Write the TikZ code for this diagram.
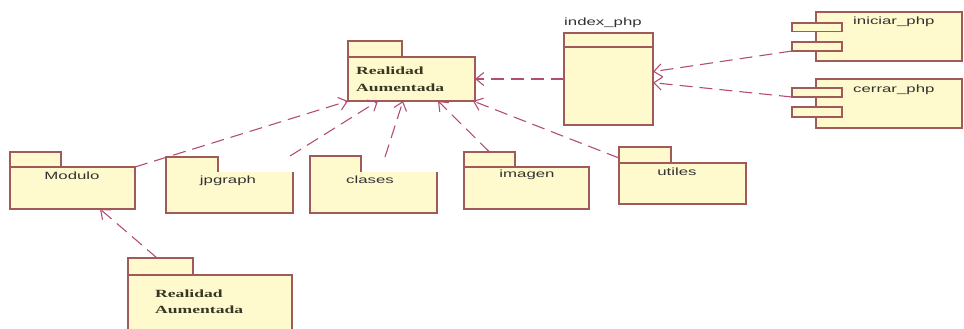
\documentclass[tikz,border=0pt]{standalone}
\usepackage{fontspec}
\usetikzlibrary{arrows.meta,calc}
\newfontfamily\lblsans[FakeStretch=1.6]{Liberation Sans}
\newfontfamily\lblserif[FakeStretch=1.6]{Liberation Serif}

\definecolor{pkgfill}{RGB}{255,250,205}
\definecolor{pkgline}{RGB}{160,90,90}
\definecolor{depline}{RGB}{178,78,115}
\definecolor{lbltext}{RGB}{50,50,50}
\definecolor{lblserif}{RGB}{55,55,35}

\tikzset{
  box/.style={rectangle, draw=pkgline, fill=pkgfill, line width=1.1pt,
              inner sep=0pt, outer sep=0pt, anchor=north west},
  boxfill/.style={rectangle, fill=pkgfill, draw=none,
              inner sep=0pt, outer sep=0pt, anchor=north west},
  edge/.style={draw=pkgline, line width=1.1pt, line join=miter},
  name lbl/.style={text=lbltext, inner sep=0pt,
              font=\lblsans\fontsize{10.5}{12}\selectfont},
  big lbl/.style={text=lblserif, inner sep=0pt, align=left, anchor=west,
              font=\lblserif\bfseries\fontsize{11}{16.5}\selectfont},
  dep/.style={draw=depline, line width=1.1pt, dash pattern=on 13pt off 7pt,
              -{Straight Barb[length=8pt,width=13pt,line width=1.1pt]}},
}

\begin{document}
\begin{tikzpicture}[x={(1pt,0)}, y={(0,-1pt)}]
\useasboundingbox (0,0) rectangle (964,329);

% package: Realidad Aumentada (top)
\node[box, minimum width=127pt, minimum height=44pt] (ra) at (348,57) {};
\node[box, minimum width=54pt, minimum height=16pt, anchor=south west] (ratab) at (ra.north west) {};
\node[big lbl] (ratext) at (356,79.5) {Realidad\\Aumentada};

% class: index_php
\node[box, minimum width=89pt, minimum height=92pt] (idx) at (564,33) {};
\draw[edge] ($(idx.north west)+(0,14)$) -- ($(idx.north east)+(0,14)$);
\node[name lbl] (idxname) at (603,23) {index\_php};

% component: iniciar_php
\node[box, minimum width=146pt, minimum height=49pt] (ini) at (816,12) {};
\node[box, minimum width=50pt, minimum height=8.5pt] (ini1) at (792,23) {};
\node[box, minimum width=50pt, minimum height=9pt] (ini2) at (792,42) {};
\node[name lbl, anchor=west] (ininame) at (853,22) {iniciar\_php};

% component: cerrar_php
\node[box, minimum width=146pt, minimum height=49pt] (cer) at (816,79) {};
\node[box, minimum width=50pt, minimum height=9pt] (cer1) at (792,88) {};
\node[box, minimum width=50pt, minimum height=10pt] (cer2) at (792,107) {};
\node[name lbl, anchor=west] (cername) at (853,90) {cerrar\_php};

% package: Modulo
\node[box, minimum width=125pt, minimum height=42pt] (mod) at (10,167) {};
\node[box, minimum width=51pt, minimum height=15pt, anchor=south west] (modtab) at (mod.north west) {};
\node[name lbl] (modname) at (72,176) {Modulo};

% package: jpgraph (open outline)
\node[boxfill, minimum width=127pt, minimum height=41pt] (jp) at (166,172) {};
\node[boxfill, minimum width=52pt, minimum height=15pt, anchor=south west] (jptab) at (jp.north west) {};
\draw[edge] (jp.north east) -- (jp.south east) -- (jp.south west) -- (jptab.north west)
            -- (jptab.north east) -- (jptab.south east);
\node[name lbl] (jpname) at (228,181) {jpgraph};

% package: clases (open outline)
\node[boxfill, minimum width=127pt, minimum height=41pt] (cl) at (310,172) {};
\node[boxfill, minimum width=51pt, minimum height=16pt, anchor=south west] (cltab) at (cl.north west) {};
\draw[edge] (cl.north east) -- (cl.south east) -- (cl.south west) -- (cltab.north west)
            -- (cltab.north east) -- (cltab.south east);
\node[name lbl] (clname) at (370,180) {clases};

% package: imagen
\node[box, minimum width=125pt, minimum height=42pt] (im) at (464,167) {};
\node[box, minimum width=51pt, minimum height=15pt, anchor=south west] (imtab) at (im.north west) {};
\node[name lbl] (imname) at (527,175) {imagen};

% package: utiles
\node[box, minimum width=127pt, minimum height=41pt] (ut) at (619,163) {};
\node[box, minimum width=52pt, minimum height=16pt, anchor=south west] (uttab) at (ut.north west) {};
\node[name lbl] (utname) at (677,172) {utiles};

% package: Realidad Aumentada (bottom)
\node[box, minimum width=164pt, minimum height=70pt] (rb) at (128,275) {};
\node[box, minimum width=65pt, minimum height=17pt, anchor=south west] (rbtab) at (rb.north west) {};
\node[big lbl] (rbtext) at (155,301.5) {Realidad\\Aumentada};

% dependencies
\draw[dep] (idx.west) -- (ra.east);
\draw[dep] (ini2.south west) -- ($(idx.north east)!0.42!(idx.south east)$);
\draw[dep] (cer1.south west) -- ($(idx.north east)!0.54!(idx.south east)$);
\draw[dep] (mod.north east) -- (ra.south west);
\draw[dep] ($(jp.north east)+(-3,-16)$) -- ($(ra.south west)+(30,0)$);
\draw[dep] ($(cl.north east)+(-52,-15)$) -- ($(ra.south west)+(55,0)$);
\draw[dep] (imtab.north) -- ($(ra.south west)+(90,0)$);
\draw[dep] ($(ut.north west)+(0,-5)$) -- ($(ra.south east)+(-2,0)$);
\draw[dep] ($(rbtab.north west)+(29,0)$) -- ($(mod.south west)+(90,0)$);
\end{tikzpicture}
\end{document}
